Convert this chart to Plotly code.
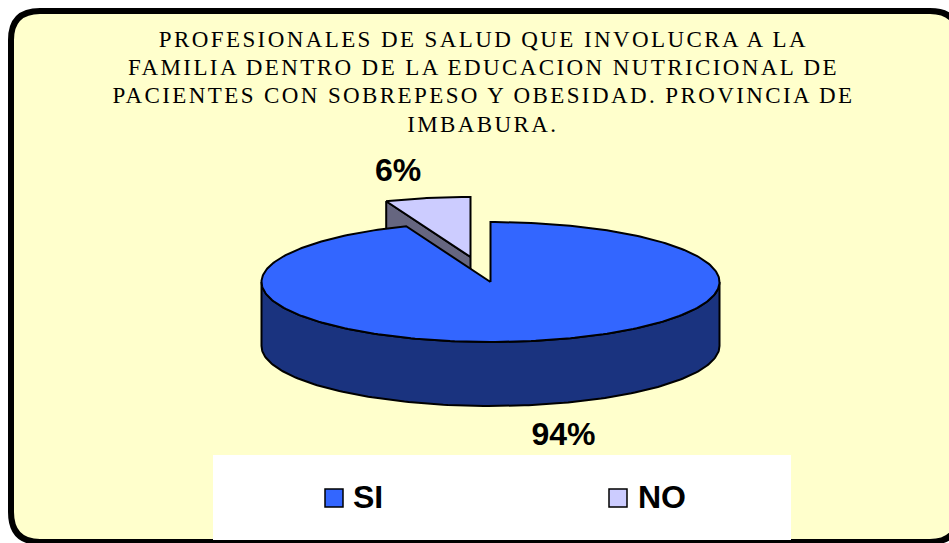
import numpy as np
import plotly.graph_objects as go

categories = ["SI", "NO"]
values = [94, 6]
percent_labels = ["94%", "6%"]
title_lines = [
    "PROFESIONALES DE SALUD QUE INVOLUCRA A LA",
    "FAMILIA DENTRO DE LA EDUCACION NUTRICIONAL DE",
    "PACIENTES CON SOBREPESO Y OBESIDAD. PROVINCIA DE",
    "IMBABURA.",
]
top_colors = ["#3366FF", "#CCCCFF"]
side_colors = ["#1A337F", "#666680"]

W, H = 949, 543
CX, CY, RX, RY, DEPTH = 490.5, 282, 229, 60, 64
EXPLODE = (-20, -25)
LINE = dict(color="black", width=2)


def rim(a0, a1, n=160, dx=0, dy=0):
    t = np.radians(np.linspace(a0, a1, n))
    return CX + dx + RX * np.sin(t), CY + dy - RY * np.cos(t)


def poly(x, y, color, close=True):
    x, y = list(x), list(y)
    if close:
        x.append(x[0]); y.append(y[0])
    return go.Scatter(x=x, y=y, mode="lines", fill="toself", fillcolor=color,
                      line=LINE, hoverinfo="skip", showlegend=False)


share = np.array(values) / sum(values) * 360
si_end = share[0]
no_start, no_end = si_end, si_end + share[1]

fig = go.Figure()

# Exploded NO slice: cut face, then top
dx, dy = EXPLODE
ex, ey = rim(no_start, no_start, 1, dx, dy)
apex = (CX + dx, CY + dy)
fig.add_trace(poly([apex[0], ex[0], ex[0], apex[0]],
                   [apex[1], ey[0], ey[0] + DEPTH, apex[1] + DEPTH], side_colors[1]))
nx, ny = rim(no_start, no_end, 40, dx, dy)
fig.add_trace(poly([apex[0], *nx], [apex[1], *ny], top_colors[1]))

# SI slice: outer wall, then top
fx, fy = rim(90, 270)
fig.add_trace(poly([*fx, *fx[::-1]], [*fy, *(fy[::-1] + DEPTH)], side_colors[0]))
sx, sy = rim(0, si_end, 300)
fig.add_trace(poly([CX, *sx], [CY, *sy], top_colors[0]))

BOLD = dict(family="Liberation Sans", size=32, color="black", weight="bold")

# Value labels
fig.add_trace(go.Scatter(
    x=[563.5, 398], y=[437, 173], mode="text", text=percent_labels,
    textfont=BOLD, hoverinfo="skip", showlegend=False))

# Key
fig.add_trace(go.Scatter(
    x=[334, 618], y=[498, 498], mode="markers",
    marker=dict(symbol="square", size=18, color=top_colors, line=dict(color="black", width=1.5)),
    hoverinfo="skip", showlegend=False))
fig.add_trace(go.Scatter(
    x=[353, 638], y=[500, 500], mode="text", text=categories,
    textposition="middle right", textfont=BOLD,
    hoverinfo="skip", showlegend=False))

annotations = [
    dict(x=483, y=39 + i * 28.4, xref="x", yref="y", text=line, showarrow=False,
         xanchor="center", yanchor="middle",
         font=dict(family="Liberation Serif", size=23, color="black"))
    for i, line in enumerate(title_lines)
]

shapes = [
    dict(type="path", layer="below",
         path="M 11 40 Q 11 11 40 11 L 930 11 Q 959 11 959 40 L 959 512 Q 959 542 930 542 L 40 542 Q 11 542 11 512 Z",
         fillcolor="#FFFFCC", line=dict(color="black", width=6)),
    dict(type="rect", layer="below", x0=213, x1=791, y0=455, y1=540,
         fillcolor="white", line=dict(width=0)),
]

fig.update_layout(
    width=W, height=H, margin=dict(l=0, r=0, t=0, b=0),
    paper_bgcolor="white", plot_bgcolor="rgba(0,0,0,0)",
    xaxis=dict(range=[0, W], visible=False, fixedrange=True),
    yaxis=dict(range=[H, 0], visible=False, fixedrange=True),
    annotations=annotations, shapes=shapes,
)
post = """
document.body.style.margin = '0';
document.querySelectorAll('.annotation-text').forEach(function (t) {
  t.style.letterSpacing = '2.4px';
});
"""
fig.write_html("out.html", config=dict(displayModeBar=False, responsive=False), post_script=post)
